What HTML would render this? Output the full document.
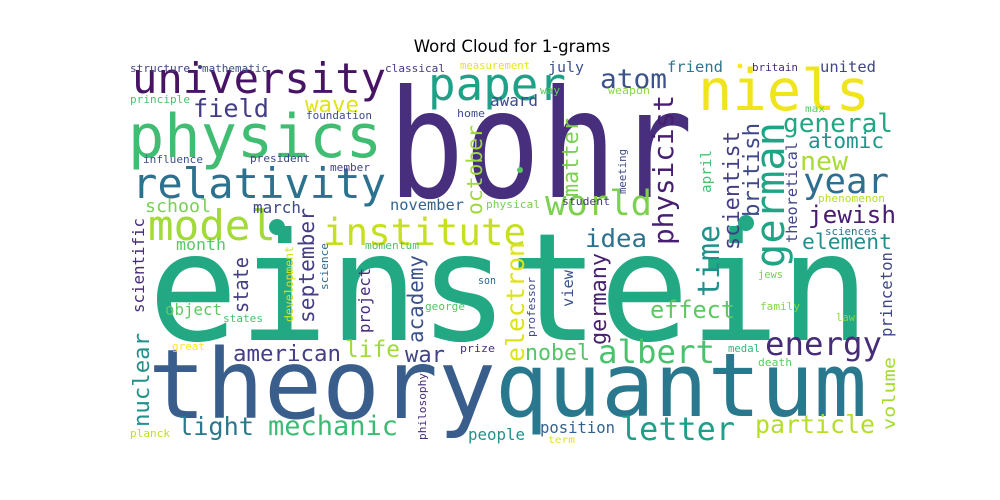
<!DOCTYPE html>
<html><head><meta charset="utf-8"><style>
html,body{margin:0;padding:0;background:#fff;}
svg{display:block;}
text{font-family:"DejaVu Sans Mono","Liberation Mono",monospace;}
</style></head><body>
<svg id="cloud" width="1000" height="500" viewBox="0 0 1000 500" xmlns="http://www.w3.org/2000/svg">
<rect width="1000" height="500" fill="#ffffff"/>
<text x="512" y="52" text-anchor="middle" style="font-family:'DejaVu Sans','Liberation Sans',sans-serif;font-size:16.5px" fill="#000">Word Cloud for 1-grams</text>
<g id="words"></g>
</svg>
<script>
// horizontal words: text, left x, baseline y, font size, width, color
var hWords = [
["bohr",388,197,150,305,"#472f7d"],
["einstein",148,340,150,722,"#23a884"],
["theory",148,418,96,348,"#3a5e8c"],
["quantum",495,416,88,372,"#2a788e"],
["physics",128,157,60,254,"#40bd72"],
["university",132,93,42,254,"#471365"],
["relativity",132,198,42,254,"#2c718e"],
["niels",698,110,57,172,"#f0e51d"],
["paper",428,100,45,138,"#1fa187"],
["model",148,240,42,128,"#a2da37"],
["institute",323,245,37,203,"#c6e021"],
["atom",600,88,27,67,"#3b528b"],
["field",193,117,25,76,"#433d84"],
["wave",305,112,22,54,"#e0e318"],
["year",803,193,35,86,"#2e6e8e"],
["general",783,132,26,110,"#22a785"],
["atomic",808,148,21,76,"#1f958b"],
["new",800,170,26,48,"#a8db34"],
["world",545,215,35,107,"#7cd250"],
["jewish",808,223,24,88,"#481c6e"],
["element",802,249,21,90,"#21908d"],
["idea",585,247,25,62,"#2c728e"],
["school",145,212,18,66,"#77d153"],
["march",253,213,16,48,"#3e4a89"],
["november",390,210,15,74,"#33638d"],
["month",176,250,16,50,"#5ac864"],
["momentum",365,249,11,54,"#4ac16d"],
["friend",667,72,15,56,"#2b758e"],
["july",548,72,14.5,36,"#3b528b"],
["united",820,72,15,56,"#3f4788"],
["britain",752,71,11,46,"#472c7a"],
["structure",130,72,11,60,"#424086"],
["mathematic",202,72,11,66,"#3d4d8a"],
["classical",385,72,11,60,"#453781"],
["measurement",460,69,10.6,70,"#e7e419"],
["principle",130,103,11,60,"#48c16e"],
["foundation",306,119,11,66,"#3e4c8a"],
["home",457,117,11,28,"#3d4e8a"],
["way",540,94,11,20,"#65cb5e"],
["weapon",608,94,11,42,"#8bd646"],
["award",490,106,16,48,"#3e4a89"],
["max",805,112,10,20,"#5ec962"],
["influence",143,163,11,60,"#3b528b"],
["president",250,162,11,60,"#404688"],
["member",330,171,11,40,"#414487"],
["physical",486,208,11,54,"#75d054"],
["student",562,205,11,48,"#453882"],
["phenomenon",818,202,11,67,"#b5de2b"],
["sciences",825,235,11,52,"#2c728e"],
["object",165,315,16,57,"#5ec962"],
["states",223,322,11,40,"#4ac16d"],
["george",425,310,11,40,"#54c568"],
["son",478,284,11,18,"#31688e"],
["american",233,361,22,108,"#433e85"],
["life",345,357,23,55,"#a0da39"],
["war",405,362,22,40,"#414487"],
["great",172,350,11,33,"#fde725"],
["prize",460,352,11,35,"#46307e"],
["nobel",525,360,22,65,"#54c568"],
["albert",598,363,32,117,"#4ac16d"],
["effect",650,318,24,85,"#5ec962"],
["energy",765,355,32,117,"#472c7a"],
["jews",758,278,11,25,"#75d054"],
["family",760,310,11,40,"#86d549"],
["law",836,321,11,19,"#86d549"],
["medal",728,352,11,32,"#35b779"],
["death",758,366,11,34,"#5ec962"],
["light",178,435,25,76,"#2a788e"],
["mechanic",268,435,27,130,"#3cbb75"],
["planck",130,437,11,40,"#bddf26"],
["people",468,440,16,57,"#21918c"],
["position",540,433,15.6,75,"#33638d"],
["term",548,443,10,27,"#dde318"],
["letter",620,440,32,115,"#1f9e89"],
["particle",755,433,25,120,"#b5de2b"]
];
// vertical words: text, baseline x, bottom y, font size, length, color
var vWords = [
["physicist",673,245,28,150,"#481f70"],
["matter",578,197,22,79,"#7ad151"],
["meeting",626,194,11,45,"#3e4989"],
["april",711,193,14,43,"#4ac16d"],
["scientist",739,250,22,119,"#433e85"],
["british",759,217,22,94,"#3e4989"],
["german",784,268,40,146,"#20a486"],
["theoretical",797,243,15,101,"#404688"],
["october",482,215,21,90,"#a0da39"],
["september",314,323,21,115,"#433e85"],
["state",248,313,20,56,"#433e85"],
["scientific",144,313,16,95,"#472c7a"],
["nuclear",149,427,22,94,"#21918c"],
["development",293,322,11.5,76,"#d0e11c"],
["science",328,290,11,47,"#31688e"],
["project",370,333,16,65,"#472c7a"],
["academy",423,343,21,88,"#3b528b"],
["philosophy",426,440,11,67,"#472c7a"],
["electron",524,362,25,120,"#dde318"],
["professor",535,337,11,60,"#3e4989"],
["germany",606,345,22,92,"#481f70"],
["view",573,307,15,37,"#3b528b"],
["time",719,297,30,72,"#21918c"],
["volume",895,430,17,73,"#a5db36"],
["princeton",892,337,15.7,85,"#3f4788"]
];
var dots = [[277,227,8,"#23a884"],[746,223,8,"#23a884"],[200,67,2,"#424086"],[520,170,3,"#5ac864"],[740,66,2.5,"#fde725"]];
var NS="http://www.w3.org/2000/svg";
var g=document.getElementById('words');
hWords.forEach(function(d){
  var t=document.createElementNS(NS,'text');
  t.setAttribute('x',d[1]);t.setAttribute('y',d[2]);
  t.setAttribute('font-size',d[3]);t.setAttribute('fill',d[5]);
  t.setAttribute('textLength',d[4]);t.setAttribute('lengthAdjust','spacingAndGlyphs');
  t.textContent=d[0];
  
  
  g.appendChild(t);
});
vWords.forEach(function(d){
  var t=document.createElementNS(NS,'text');
  t.setAttribute('transform','translate('+d[1]+','+d[2]+') rotate(-90)');
  t.setAttribute('x',0);t.setAttribute('y',0);
  t.setAttribute('font-size',d[3]);t.setAttribute('fill',d[5]);
  t.setAttribute('textLength',d[4]);t.setAttribute('lengthAdjust','spacingAndGlyphs');
  t.textContent=d[0];
  
  
  g.appendChild(t);
});
dots.forEach(function(d){
  var c=document.createElementNS(NS,'circle');
  c.setAttribute('cx',d[0]);c.setAttribute('cy',d[1]);c.setAttribute('r',d[2]);c.setAttribute('fill',d[3]);
  
  
  g.appendChild(c);
});
</script>
</body></html>
